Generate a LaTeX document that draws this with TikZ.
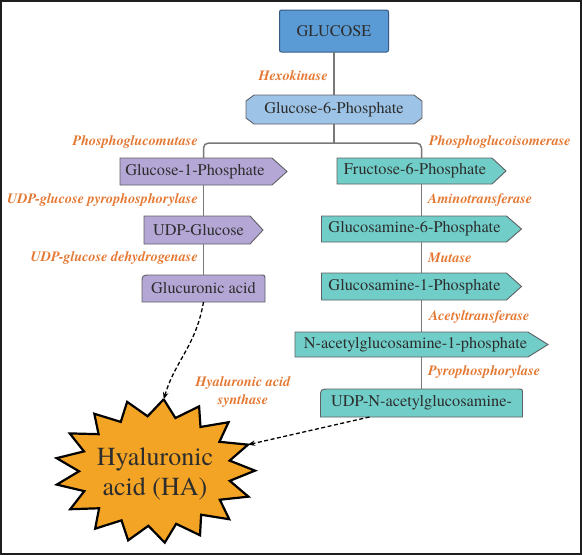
\documentclass[tikz,border=0pt]{standalone}
\usepackage{fontspec}
\setmainfont{texgyretermes}[Extension=.otf, UprightFont=*-regular, BoldFont=*-bold, ItalicFont=*-italic, BoldItalicFont=*-bolditalic]
\usetikzlibrary{arrows.meta,backgrounds}
\definecolor{lblorange}{RGB}{228,120,50}
\definecolor{txtdark}{RGB}{45,45,45}
\definecolor{glcblue}{RGB}{91,155,213}
\definecolor{glcedge}{RGB}{55,90,130}
\definecolor{lightblue}{RGB}{157,195,230}
\definecolor{purplebox}{RGB}{180,167,214}
\definecolor{tealbox}{RGB}{112,205,200}
\definecolor{boxedge}{RGB}{95,95,100}
\definecolor{connline}{RGB}{120,120,120}
\definecolor{starorange}{RGB}{244,164,36}
\definecolor{framecol}{RGB}{30,30,30}
\tikzset{
  box/.style={draw=none, inner sep=0pt, outer sep=0pt, text=txtdark, font=\fontsize{16.3}{18}\selectfont},
  pent/.style={box, execute at begin node={\hspace*{-#1}}},
  edgeline/.style={draw=boxedge, line width=0.9pt},
  conn/.style={draw=connline, line width=1.5pt},
  enz/.style={font=\fontsize{14.2}{18}\selectfont\bfseries\itshape, text=lblorange, inner sep=0pt},
  dasharrow/.style={draw=black, line width=1.3pt, dash pattern=on 4pt off 2.5pt, -{Stealth[length=7pt,width=5.5pt]}},
}
\newcommand\pentpath[3]{\draw[edgeline, fill=#3] (#1.north west) -- ([xshift=-#2]#1.north east) -- (#1.east) -- ([xshift=-#2]#1.south east) -- (#1.south west) -- cycle;}
\newcommand\tabpath[2]{\draw[edgeline, fill=#2] (#1.south west) -- ([yshift=-9pt]#1.north west) .. controls (#1.north west) .. ([xshift=9pt]#1.north west) -- ([xshift=-5pt]#1.north east) .. controls (#1.north east) .. ([yshift=-5pt]#1.north east) -- (#1.south east) -- cycle;}
\newcommand\champath[2]{\draw[edgeline, fill=#2] ([xshift=8pt]#1.north west) -- ([xshift=-8pt]#1.north east) -- ([yshift=-6pt]#1.north east) -- ([yshift=6pt]#1.south east) -- ([xshift=-8pt]#1.south east) -- ([xshift=8pt]#1.south west) -- ([yshift=6pt]#1.south west) -- ([yshift=-6pt]#1.north west) -- cycle;}
\begin{document}
\begin{tikzpicture}[x=1pt,y=-1pt]
\useasboundingbox (0,0) rectangle (582,555);
\draw[framecol, line width=1.8pt] (0.9,0.9) rectangle (580.6,553.6);

% boxes
\node[box, minimum width=109pt, minimum height=42pt, draw=glcedge, fill=glcblue, rounded corners=2pt, line width=1pt] (glc) at (334,31) {GLUCOSE};
\node[box, minimum width=176pt, minimum height=29pt] (g6p) at (334,109.5) {Glucose-6-Phosphate};
\node[pent=17pt, minimum width=167pt, minimum height=27pt] (g1p) at (203.5,171.5) {Glucose-1-Phosphate};
\node[pent=10pt, minimum width=119pt, minimum height=28pt] (udpg) at (203.5,230) {UDP-Glucose};
\node[box, minimum width=123pt, minimum height=27pt] (glca) at (203.5,288.5) {Glucuronic acid};
\node[pent=13pt, minimum width=169pt, minimum height=26pt] (f6p) at (421.5,171) {Fructose-6-Phosphate};
\node[pent=14pt, minimum width=200pt, minimum height=26pt] (gn6p) at (421.5,229) {Glucosamine-6-Phosphate};
\node[pent=14pt, minimum width=200pt, minimum height=27pt] (gn1p) at (421.5,286.5) {Glucosamine-1-Phosphate};
\node[pent=12pt, minimum width=253pt, minimum height=25pt] (nag1p) at (421.5,344.5) {N-acetylglucosamine-1-phosphate};
\node[box, minimum width=202pt, minimum height=28pt] (udpn) at (421.5,403) {UDP-N-acetylglucosamine-};

\begin{pgfonlayer}{background}
\champath{g6p}{lightblue}
\pentpath{g1p}{15pt}{purplebox}
\pentpath{udpg}{13pt}{purplebox}
\tabpath{glca}{purplebox}
\pentpath{f6p}{14pt}{tealbox}
\pentpath{gn6p}{15pt}{tealbox}
\pentpath{gn1p}{15pt}{tealbox}
\pentpath{nag1p}{20pt}{tealbox}
\tabpath{udpn}{tealbox}
\end{pgfonlayer}

% connectors
\draw[conn] (glc.south) -- (g6p.north);
\draw[conn] (g6p.south) -- ++(0,19) coordinate (br);
\draw[conn, rounded corners=5pt] (g1p.north) |- (br) -| (f6p.north);
\draw[conn] (g1p.south) -- (udpg.north);
\draw[conn] (udpg.south) -- (glca.north);
\draw[conn] (f6p.south) -- (gn6p.north);
\draw[conn] (gn6p.south) -- (gn1p.north);
\draw[conn] (gn1p.south) -- (nag1p.north);
\draw[conn] (nag1p.south) -- (udpn.north);

% enzymes
\node[enz, anchor=east] (lhex) at (328,76) {Hexokinase};
\node[enz, anchor=east] (lpgm) at (198,142) {Phosphoglucomutase};
\node[enz, anchor=east] (lugp) at (198,200) {UDP-glucose pyrophosphorylase};
\node[enz, anchor=east] (lugd) at (198,258) {UDP-glucose dehydrogenase};
\node[enz, anchor=west] (lpgi) at (429,142) {Phosphoglucoisomerase};
\node[enz, anchor=west] (lamt) at (428,200) {Aminotransferase};
\node[enz, anchor=west] (lmut) at (428,258) {Mutase};
\node[enz, anchor=west] (lact) at (429,317) {Acetyltransferase};
\node[enz, anchor=west] (lpyr) at (428,372) {Pyrophosphorylase};
\node[enz, align=center] (lhas) at (243,392) {Hyaluronic acid\\synthase};

% star
\draw[line width=2.2pt, fill=starorange, line join=miter]
  ({155+100*cos(85)},{471-72*sin(85)})
  \foreach \i in {0,...,16}{
    -- ({155+76*cos(85+(\i+0.5)*21.1765)},{471-55*sin(85+(\i+0.5)*21.1765)})
    -- ({155+100*cos(85+(\i+1)*21.1765)},{471-72*sin(85+(\i+1)*21.1765)})
  } -- cycle;
\node[font=\fontsize{26}{30}\selectfont, align=center, text=txtdark, inner sep=0pt] (ha) at (155,474) {Hyaluronic\\acid (HA)};
\coordinate (hatop) at ({155+100*cos(85)},{471-72*sin(85)});
\coordinate (haright) at ({155+100*cos(85-3*21.1765)},{471-72*sin(85-3*21.1765)});

\draw[dasharrow] (glca.south) .. controls +(-8,45) and +(12,-40) .. (hatop);
\draw[dasharrow] ([xshift=-52pt]udpn.south) -- (haright);
\end{tikzpicture}
\end{document}
